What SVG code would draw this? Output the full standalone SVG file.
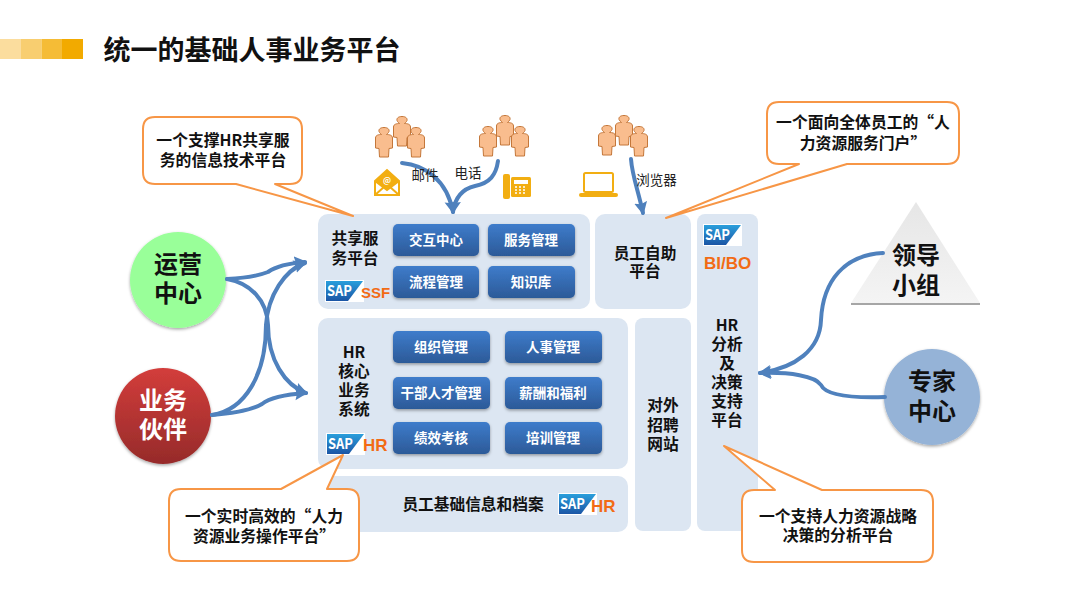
<svg xmlns="http://www.w3.org/2000/svg" width="1080" height="608" viewBox="0 0 1080 608">
<defs>
<linearGradient id="btn" x1="0" y1="0" x2="0" y2="1"><stop offset="0" stop-color="#3E7CCB"/><stop offset="1" stop-color="#2C5A98"/></linearGradient>
<linearGradient id="red" x1="0" y1="0" x2="0" y2="1"><stop offset="0" stop-color="#D33D3B"/><stop offset="1" stop-color="#962B2A"/></linearGradient>
<linearGradient id="tri" x1="0" y1="0" x2="0" y2="1"><stop offset="0" stop-color="#E6E6E6"/><stop offset="1" stop-color="#F4F4F4"/></linearGradient>
<linearGradient id="sap" x1="0" y1="0" x2="0" y2="1"><stop offset="0" stop-color="#2A9FDC"/><stop offset="1" stop-color="#1B55A5"/></linearGradient>
<filter id="sh" x="-20%" y="-20%" width="140%" height="150%"><feDropShadow dx="0" dy="1.5" stdDeviation="1.5" flood-color="#000" flood-opacity="0.35"/></filter>
<marker id="ah" markerUnits="userSpaceOnUse" markerWidth="16" markerHeight="16" refX="11" refY="7" orient="auto"><path d="M0,0.5 L13,7 L0,13.5 L2,7 Z" fill="#4F81BD"/></marker>
<symbol id="person" width="20" height="32" viewBox="0 0 20 32" overflow="visible"><path d="M10,0.5 C14,0.5 15.5,2.5 15,4.5 C14.5,6 13,7 12.5,7.5 C15,7.5 18.5,8 18.5,11 L18.5,21 L15,21.5 L14.5,30 L5.5,30 L5,21.5 L1.5,21 L1.5,11 C1.5,8 5,7.5 7.5,7.5 C7,7 5.5,6 5,4.5 C4.5,2.5 6,0.5 10,0.5 Z" fill="#F9BD8E" stroke="#C4773A" stroke-width="1"/></symbol>
<g id="saplogo"><rect width="39" height="22" fill="#fff"/><path d="M1,1 H38 L23,21 H1 Z" fill="url(#sap)"/><text x="2" y="16" style="text-anchor:start" font-family="'Liberation Sans',sans-serif" font-size="15" font-weight="700" fill="#fff" textLength="25" lengthAdjust="spacingAndGlyphs">SAP</text></g>
</defs>
<style>
text{font-family:"Noto Sans CJK SC","Liberation Sans",sans-serif;text-anchor:middle}
.panel{fill:#DCE6F2}
.btn{fill:url(#btn);filter:url(#sh)}
.bt{font-size:13.5px;font-weight:700;fill:#fff}
.pt{font-size:15.7px;font-weight:700;fill:#111}
.ct{font-size:15.8px;font-weight:700;fill:#111}
.ci{font-size:24px;font-weight:700;fill:#111}
.cw{font-size:24px;font-weight:700;fill:#fff}
.lb{font-size:13.5px;fill:#222}
.or{font-family:"Liberation Sans",sans-serif;font-size:17px;font-weight:700;fill:#F26B15;text-anchor:start}
.call{fill:#fff;stroke:#F79646;stroke-width:2;stroke-linejoin:round}
.conn{fill:none;stroke:#4F81BD;stroke-width:4;stroke-linecap:round;marker-end:url(#ah)}
.ic{fill:none;stroke:#F2AE12;stroke-width:2}
</style>
<rect width="1080" height="608" fill="#fff"/>
<g id="banner"><rect x="0" y="39" width="21" height="20" fill="#FBDD9E"/><rect x="21" y="39" width="20.5" height="20" fill="#F8CE70"/><rect x="41.5" y="39" width="20.5" height="20" fill="#F5BC36"/><rect x="62" y="39" width="21" height="20" fill="#F2AA00"/></g>
<text id="title" x="252" y="60" font-size="27" font-weight="700" fill="#111">统一的基础人事业务平台</text>

<g id="panel-ssc"><rect class="panel" x="318" y="214" width="272" height="95" rx="10"/><text class="pt" x="355" y="244">共享服<tspan x="355" dy="20">务平台</tspan></text><use href="#saplogo" x="325" y="280"/><text class="or" x="361" y="298" style="font-size:15px">SSF</text></g>
<g id="panel-self"><rect class="panel" x="595" y="214" width="96" height="95" rx="10"/><text class="pt" x="645" y="259">员工自助<tspan x="645" dy="18">平台</tspan></text></g>
<g id="panel-bi"><rect class="panel" x="697" y="214" width="61" height="317" rx="8"/><use href="#saplogo" x="703" y="224"/><text class="or" x="704" y="269">BI/BO</text>
<text class="pt" x="727" y="331">HR<tspan x="727" dy="19">分析</tspan><tspan x="727" dy="19">及</tspan><tspan x="727" dy="19">决策</tspan><tspan x="727" dy="19">支持</tspan><tspan x="727" dy="19">平台</tspan></text></g>
<g id="panel-recruit"><rect class="panel" x="635" y="318" width="56" height="213" rx="8"/><text class="pt" x="663" y="411">对外<tspan x="663" dy="19.5">招聘</tspan><tspan x="663" dy="19">网站</tspan></text></g>
<g id="panel-core"><rect class="panel" x="318" y="318" width="310" height="151" rx="10"/><text class="pt" x="354" y="358">HR<tspan x="354" dy="19">核心</tspan><tspan x="354" dy="19">业务</tspan><tspan x="354" dy="19">系统</tspan></text><use href="#saplogo" x="326" y="433"/><text class="or" x="363" y="451">HR</text></g>
<g id="panel-base"><rect class="panel" x="318" y="476" width="310" height="56" rx="10"/><text class="pt" x="473" y="510">员工基础信息和档案</text><use href="#saplogo" x="558" y="493"/><text class="or" x="591" y="512">HR</text></g>

<g id="btn-1"><rect class="btn" x="393" y="224" width="86" height="32" rx="5"/><text class="bt" x="436" y="245">交互中心</text></g>
<g id="btn-2"><rect class="btn" x="488" y="224" width="87" height="32" rx="5"/><text class="bt" x="531" y="245">服务管理</text></g>
<g id="btn-3"><rect class="btn" x="393" y="266" width="86" height="32" rx="5"/><text class="bt" x="436" y="287">流程管理</text></g>
<g id="btn-4"><rect class="btn" x="488" y="266" width="87" height="32" rx="5"/><text class="bt" x="531" y="287">知识库</text></g>
<g id="btn-5"><rect class="btn" x="393" y="331" width="97" height="32" rx="5"/><text class="bt" x="441" y="352">组织管理</text></g>
<g id="btn-6"><rect class="btn" x="505" y="331" width="97" height="32" rx="5"/><text class="bt" x="553" y="352">人事管理</text></g>
<g id="btn-7"><rect class="btn" x="393" y="377" width="97" height="32" rx="5"/><text class="bt" x="441" y="398">干部人才管理</text></g>
<g id="btn-8"><rect class="btn" x="505" y="377" width="97" height="32" rx="5"/><text class="bt" x="553" y="398">薪酬和福利</text></g>
<g id="btn-9"><rect class="btn" x="393" y="422" width="97" height="32" rx="5"/><text class="bt" x="441" y="443">绩效考核</text></g>
<g id="btn-10"><rect class="btn" x="505" y="422" width="97" height="32" rx="5"/><text class="bt" x="553" y="443">培训管理</text></g>

<g id="node-ops"><circle cx="178" cy="280" r="48" fill="#99FF99" filter="url(#sh)"/><text class="ci" x="178" y="273">运营<tspan x="178" dy="29">中心</tspan></text></g>
<g id="node-bp"><circle cx="163" cy="416" r="48" fill="url(#red)" filter="url(#sh)"/><text class="cw" x="163" y="409">业务<tspan x="163" dy="29">伙伴</tspan></text></g>
<g id="node-expert"><circle cx="932" cy="397" r="48" fill="#95B3D7" filter="url(#sh)"/><text class="ci" x="932" y="390">专家<tspan x="932" dy="30">中心</tspan></text></g>
<g id="node-lead"><path d="M916,202 L980,303 H851 Z" fill="url(#tri)"/><path d="M851,304 H980" stroke="#A6A6A6" stroke-width="2"/><text class="ci" x="916" y="264">领导<tspan x="916" dy="30">小组</tspan></text></g>

<g id="connectors">
<path class="conn" d="M227,279 C245,278 258,276 268,272 C278,265 292,263 305,262"/>
<path class="conn" d="M227,279 C250,283 267,300 268,325 C268,360 285,385 306,393"/>
<path class="conn" d="M212,415 C245,410 266,375 266,325 C268,295 285,270 305,263"/>
<path class="conn" d="M212,415 C235,413 252,410 262,404 C272,396 292,394 306,393"/>
<path class="conn" d="M402,163 C425,165 447,180 453,212"/>
<path class="conn" d="M498,161 C496,175 490,183 475,186 C462,189 455,197 453,212"/>
<path class="conn" d="M631,159 C632,175 638,190 643,213"/>
<path class="conn" d="M883,253 C845,255 823,280 821,320 C820,350 795,368 760,373"/>
<path class="conn" d="M885,397 C855,398 826,396 821,385 C815,376 790,372 760,373"/>
</g>

<g id="callout-ssc"><path class="call" d="M155,117 H290 Q302,117 302,129 V172 Q302,184 290,184 H275 L353,216 L236,184 H155 Q143,184 143,172 V129 Q143,117 155,117 Z"/><text class="ct" x="223" y="146">一个支撑HR共享服<tspan x="223" dy="20">务的信息技术平台</tspan></text></g>
<g id="callout-portal"><path class="call" d="M779,102 H947 Q959,102 959,114 V152 Q959,164 947,164 H847 L666,218 L799,164 H779 Q767,164 767,152 V114 Q767,102 779,102 Z"/><text class="ct" x="863" y="128">一个面向全体员工的“人<tspan x="863" dy="21">力资源服务门户”</tspan></text></g>
<g id="callout-core"><path class="call" d="M181,489 H281 L343,455 L327,489 H347 Q359,489 359,501 V549 Q359,561 347,561 H181 Q169,561 169,549 V501 Q169,489 181,489 Z"/><text class="ct" x="264" y="522">一个实时高效的“人力<tspan x="264" dy="20">资源业务操作平台”</tspan></text></g>
<g id="callout-bi"><path class="call" d="M754,490 H775 L724,446 L822,490 H921 Q933,490 933,502 V550 Q933,562 921,562 H754 Q742,562 742,550 V502 Q742,490 754,490 Z"/><text class="ct" x="838" y="522">一个支持人力资源战略<tspan x="838" dy="19">决策的分析平台</tspan></text></g>

<g id="people-1"><use href="#person" x="392" y="116"/><use href="#person" x="374" y="127"/><use href="#person" x="406" y="127"/></g>
<g id="people-2"><use href="#person" x="495" y="115"/><use href="#person" x="478" y="126"/><use href="#person" x="510" y="126"/></g>
<g id="people-3"><use href="#person" x="614" y="115"/><use href="#person" x="597" y="125"/><use href="#person" x="629" y="126"/></g>

<g id="icon-mail"><path d="M375,181 L387,170 L399,181 L387,190 Z" fill="#F2AE12"/><path class="ic" d="M375,181 L387,170 L399,181 V195 H375 Z M375,181 L387,190 L399,181 M375,195 L384,187 M399,195 L390,187"/><text x="387" y="183" font-size="8" font-weight="700" fill="#fff">@</text></g>
<text class="lb" x="425" y="180">邮件</text>
<text class="lb" x="468" y="178">电话</text>
<g id="icon-phone"><rect x="503" y="174" width="7" height="25" rx="2" fill="#F2AE12"/><rect x="511" y="177" width="20" height="20" rx="1.5" fill="#F2AE12"/><rect x="514" y="180" width="14" height="4" fill="#fff"/><path d="M515,187 h2 M519,187 h2 M523,187 h2 M515,190 h2 M519,190 h2 M523,190 h2 M515,193 h2 M519,193 h2 M523,193 h2" stroke="#fff" stroke-width="1.5"/></g>
<g id="icon-laptop"><rect x="584" y="173" width="29" height="19" rx="1.5" class="ic"/><rect x="579" y="193" width="39" height="4" rx="2" fill="#F2AE12"/></g>
<text class="lb" x="656.5" y="185">浏览器</text>
</svg>
